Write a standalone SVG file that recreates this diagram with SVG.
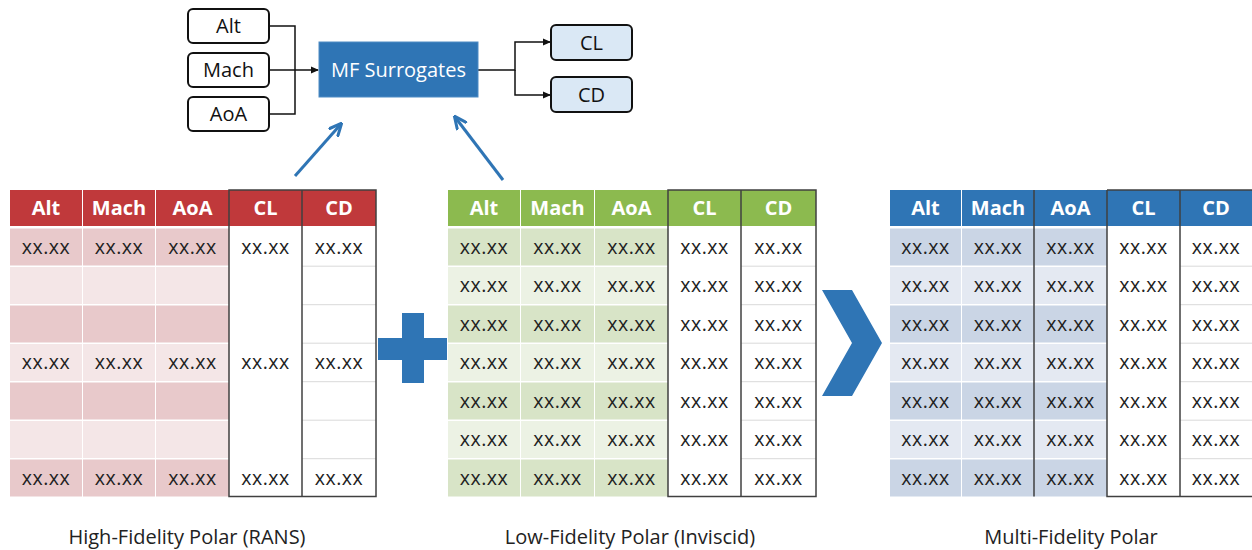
<svg xmlns="http://www.w3.org/2000/svg" width="1252" height="550" viewBox="0 0 1252 550">
<style>
.bx{fill:#fff;stroke:#111;stroke-width:2}
.out{fill:#DAE8F5;stroke:#111;stroke-width:2}
.lb{font-family:"Open Sans","Liberation Sans",sans-serif;font-size:20px;fill:#111;text-anchor:middle}
.hd{font-family:"Open Sans","Liberation Sans",sans-serif;font-size:20px;font-weight:bold;fill:#fff;text-anchor:middle}
.dt{font-family:"Open Sans","Liberation Sans",sans-serif;font-size:19.5px;fill:#222;text-anchor:middle;letter-spacing:0.5px}
.cap{font-family:"Open Sans","Liberation Sans",sans-serif;font-size:20px;fill:#222;text-anchor:middle}
.rh{fill:#C0393B}.r1{fill:#E8C9CB}.r2{fill:#F4E6E7}
.gh{fill:#8CBA4F}.g1{fill:#D8E4C7}.g2{fill:#ECF2E4}
.bh{fill:#2F75B5}.b1{fill:#CAD5E5}.b2{fill:#E4E9F2}
.dk{fill:none;stroke:#404040;stroke-width:1.5}
.lt{stroke:#D9D9D9;stroke-width:1}
.cn{fill:none;stroke:#111;stroke-width:1.5}
.ba{fill:none;stroke:#2F75B5;stroke-width:3}
</style>
<defs>
<marker id="ah" markerWidth="8" markerHeight="8" refX="7" refY="4" orient="auto" markerUnits="userSpaceOnUse"><path d="M0,0.5 L8,4 L0,7.5 Z" fill="#111"/></marker>
<marker id="bah" markerWidth="14" markerHeight="14" refX="12" refY="7" orient="auto" markerUnits="userSpaceOnUse"><path d="M0,1 L13,7 L0,13" fill="none" stroke="#2F75B5" stroke-width="3"/></marker>
</defs>

<g id="connectors">
<path class="cn" d="M270,26 H295 V70 M270,114 H295 V70"/>
<path class="cn" d="M270,70 H318" marker-end="url(#ah)"/>
<path class="cn" d="M478,70 H515 V42 H550" marker-end="url(#ah)"/>
<path class="cn" d="M515,70 V95 H550" marker-end="url(#ah)"/>
<path class="ba" d="M295,176 L341,124" marker-end="url(#bah)"/>
<path class="ba" d="M503,180 L455,117" marker-end="url(#bah)"/>
</g>

<g id="in-alt"><rect class="bx" x="188" y="9" width="81" height="34" rx="5"/><text class="lb" x="228.5" y="33">Alt</text></g>
<g id="in-mach"><rect class="bx" x="188" y="53" width="81" height="34" rx="5"/><text class="lb" x="228.5" y="77">Mach</text></g>
<g id="in-aoa"><rect class="bx" x="188" y="97" width="81" height="34" rx="5"/><text class="lb" x="228.5" y="121">AoA</text></g>
<g id="mf"><rect x="319" y="42" width="159" height="55" fill="#2F75B5" stroke="#4F8CC4" stroke-width="1"/><text x="398.5" y="77" font-family="'Open Sans','Liberation Sans',sans-serif" font-size="20" fill="#fff" text-anchor="middle">MF Surrogates</text></g>
<g id="out-cl"><rect class="out" x="551" y="25" width="81" height="35" rx="5"/><text class="lb" x="591.5" y="50">CL</text></g>
<g id="out-cd"><rect class="out" x="551" y="77" width="81" height="35" rx="5"/><text class="lb" x="591.5" y="102">CD</text></g>

<g id="hf-table">
<rect class="rh" x="10" y="190" width="72" height="36"/><rect class="rh" x="83" y="190" width="72" height="36"/><rect class="rh" x="156" y="190" width="73" height="36"/><rect class="rh" x="229" y="190" width="73" height="36"/><rect class="rh" x="302" y="190" width="74" height="36"/>
<text class="hd" x="46" y="215">Alt</text><text class="hd" x="119" y="215">Mach</text><text class="hd" x="192.5" y="215">AoA</text><text class="hd" x="265.5" y="215">CL</text><text class="hd" x="339" y="215">CD</text>
<g class="r1"><rect x="10" y="228.5" width="72" height="37"/><rect x="83" y="228.5" width="72" height="37"/><rect x="156" y="228.5" width="73" height="37"/></g>
<g class="r2"><rect x="10" y="267" width="72" height="37"/><rect x="83" y="267" width="72" height="37"/><rect x="156" y="267" width="73" height="37"/></g>
<g class="r1"><rect x="10" y="305.5" width="72" height="37"/><rect x="83" y="305.5" width="72" height="37"/><rect x="156" y="305.5" width="73" height="37"/></g>
<g class="r2"><rect x="10" y="344" width="72" height="37"/><rect x="83" y="344" width="72" height="37"/><rect x="156" y="344" width="73" height="37"/></g>
<g class="r1"><rect x="10" y="382.5" width="72" height="37"/><rect x="83" y="382.5" width="72" height="37"/><rect x="156" y="382.5" width="73" height="37"/></g>
<g class="r2"><rect x="10" y="421" width="72" height="37"/><rect x="83" y="421" width="72" height="37"/><rect x="156" y="421" width="73" height="37"/></g>
<g class="r1"><rect x="10" y="459.5" width="72" height="37"/><rect x="83" y="459.5" width="72" height="37"/><rect x="156" y="459.5" width="73" height="37"/></g>
<path class="lt" d="M302,266.2 H376 M302,304.7 H376 M302,343.2 H376 M302,381.7 H376 M302,420.2 H376 M302,458.7 H376"/>
<rect class="dk" x="229" y="190" width="147" height="306.5"/><path class="dk" d="M302,190 V496.5"/>
<g class="dt"><text x="46" y="253.5">xx.xx</text><text x="119" y="253.5">xx.xx</text><text x="192.5" y="253.5">xx.xx</text><text x="265.5" y="253.5">xx.xx</text><text x="339" y="253.5">xx.xx</text>
<text x="46" y="369">xx.xx</text><text x="119" y="369">xx.xx</text><text x="192.5" y="369">xx.xx</text><text x="265.5" y="369">xx.xx</text><text x="339" y="369">xx.xx</text>
<text x="46" y="484.5">xx.xx</text><text x="119" y="484.5">xx.xx</text><text x="192.5" y="484.5">xx.xx</text><text x="265.5" y="484.5">xx.xx</text><text x="339" y="484.5">xx.xx</text></g>
<text class="cap" x="187" y="544">High-Fidelity Polar (RANS)</text>
</g>

<g id="plus"><path d="M402,313 H424 V338 H447 V360 H424 V383 H402 V360 H378 V338 H402 Z" fill="#2F75B5"/></g>

<g id="lf-table">
<rect class="gh" x="448" y="190" width="72" height="36"/><rect class="gh" x="521" y="190" width="73" height="36"/><rect class="gh" x="595" y="190" width="73" height="36"/><rect class="gh" x="668" y="190" width="73" height="36"/><rect class="gh" x="741" y="190" width="75" height="36"/>
<text class="hd" x="484" y="215">Alt</text><text class="hd" x="557.5" y="215">Mach</text><text class="hd" x="631.5" y="215">AoA</text><text class="hd" x="704.5" y="215">CL</text><text class="hd" x="778.5" y="215">CD</text>
<g class="g1"><rect x="448" y="228.5" width="72" height="37"/><rect x="521" y="228.5" width="73" height="37"/><rect x="595" y="228.5" width="73" height="37"/></g>
<g class="g2"><rect x="448" y="267" width="72" height="37"/><rect x="521" y="267" width="73" height="37"/><rect x="595" y="267" width="73" height="37"/></g>
<g class="g1"><rect x="448" y="305.5" width="72" height="37"/><rect x="521" y="305.5" width="73" height="37"/><rect x="595" y="305.5" width="73" height="37"/></g>
<g class="g2"><rect x="448" y="344" width="72" height="37"/><rect x="521" y="344" width="73" height="37"/><rect x="595" y="344" width="73" height="37"/></g>
<g class="g1"><rect x="448" y="382.5" width="72" height="37"/><rect x="521" y="382.5" width="73" height="37"/><rect x="595" y="382.5" width="73" height="37"/></g>
<g class="g2"><rect x="448" y="421" width="72" height="37"/><rect x="521" y="421" width="73" height="37"/><rect x="595" y="421" width="73" height="37"/></g>
<g class="g1"><rect x="448" y="459.5" width="72" height="37"/><rect x="521" y="459.5" width="73" height="37"/><rect x="595" y="459.5" width="73" height="37"/></g>
<path class="lt" d="M741,266.2 H816 M741,304.7 H816 M741,343.2 H816 M741,381.7 H816 M741,420.2 H816 M741,458.7 H816"/>
<rect class="dk" x="668" y="190" width="148" height="306.5"/><path class="dk" d="M741,190 V496.5"/>
<g class="dt">
<text x="484" y="253.5">xx.xx</text><text x="557.5" y="253.5">xx.xx</text><text x="631.5" y="253.5">xx.xx</text><text x="704.5" y="253.5">xx.xx</text><text x="778.5" y="253.5">xx.xx</text>
<text x="484" y="292">xx.xx</text><text x="557.5" y="292">xx.xx</text><text x="631.5" y="292">xx.xx</text><text x="704.5" y="292">xx.xx</text><text x="778.5" y="292">xx.xx</text>
<text x="484" y="330.5">xx.xx</text><text x="557.5" y="330.5">xx.xx</text><text x="631.5" y="330.5">xx.xx</text><text x="704.5" y="330.5">xx.xx</text><text x="778.5" y="330.5">xx.xx</text>
<text x="484" y="369">xx.xx</text><text x="557.5" y="369">xx.xx</text><text x="631.5" y="369">xx.xx</text><text x="704.5" y="369">xx.xx</text><text x="778.5" y="369">xx.xx</text>
<text x="484" y="407.5">xx.xx</text><text x="557.5" y="407.5">xx.xx</text><text x="631.5" y="407.5">xx.xx</text><text x="704.5" y="407.5">xx.xx</text><text x="778.5" y="407.5">xx.xx</text>
<text x="484" y="446">xx.xx</text><text x="557.5" y="446">xx.xx</text><text x="631.5" y="446">xx.xx</text><text x="704.5" y="446">xx.xx</text><text x="778.5" y="446">xx.xx</text>
<text x="484" y="484.5">xx.xx</text><text x="557.5" y="484.5">xx.xx</text><text x="631.5" y="484.5">xx.xx</text><text x="704.5" y="484.5">xx.xx</text><text x="778.5" y="484.5">xx.xx</text>
</g>
<text class="cap" x="630" y="544">Low-Fidelity Polar (Inviscid)</text>
</g>

<g id="chevron"><polygon points="822,290 852,290 882,343 852,396 822,396 852,343" fill="#2F75B5"/></g>

<g id="mf-table">
<rect class="bh" x="890" y="190" width="71" height="36"/><rect class="bh" x="962" y="190" width="72" height="36"/><rect class="bh" x="1034" y="190" width="73" height="36"/><rect class="bh" x="1107" y="190" width="73" height="36"/><rect class="bh" x="1180" y="190" width="72" height="36"/>
<text class="hd" x="925.5" y="215">Alt</text><text class="hd" x="998" y="215">Mach</text><text class="hd" x="1070.5" y="215">AoA</text><text class="hd" x="1143.5" y="215">CL</text><text class="hd" x="1216" y="215">CD</text>
<g class="b1"><rect x="890" y="228.5" width="71" height="37"/><rect x="962" y="228.5" width="72" height="37"/><rect x="1034" y="228.5" width="73" height="37"/></g>
<g class="b2"><rect x="890" y="267" width="71" height="37"/><rect x="962" y="267" width="72" height="37"/><rect x="1034" y="267" width="73" height="37"/></g>
<g class="b1"><rect x="890" y="305.5" width="71" height="37"/><rect x="962" y="305.5" width="72" height="37"/><rect x="1034" y="305.5" width="73" height="37"/></g>
<g class="b2"><rect x="890" y="344" width="71" height="37"/><rect x="962" y="344" width="72" height="37"/><rect x="1034" y="344" width="73" height="37"/></g>
<g class="b1"><rect x="890" y="382.5" width="71" height="37"/><rect x="962" y="382.5" width="72" height="37"/><rect x="1034" y="382.5" width="73" height="37"/></g>
<g class="b2"><rect x="890" y="421" width="71" height="37"/><rect x="962" y="421" width="72" height="37"/><rect x="1034" y="421" width="73" height="37"/></g>
<g class="b1"><rect x="890" y="459.5" width="71" height="37"/><rect x="962" y="459.5" width="72" height="37"/><rect x="1034" y="459.5" width="73" height="37"/></g>
<path class="lt" d="M1180,266.2 H1252 M1180,304.7 H1252 M1180,343.2 H1252 M1180,381.7 H1252 M1180,420.2 H1252 M1180,458.7 H1252"/>
<path class="dk" d="M1034,190 V496.5 M1107,190 V496.5 H1252 M1180,190 V496.5 M1107,190 H1252"/>
<g class="dt">
<text x="925.5" y="253.5">xx.xx</text><text x="998" y="253.5">xx.xx</text><text x="1070.5" y="253.5">xx.xx</text><text x="1143.5" y="253.5">xx.xx</text><text x="1216" y="253.5">xx.xx</text>
<text x="925.5" y="292">xx.xx</text><text x="998" y="292">xx.xx</text><text x="1070.5" y="292">xx.xx</text><text x="1143.5" y="292">xx.xx</text><text x="1216" y="292">xx.xx</text>
<text x="925.5" y="330.5">xx.xx</text><text x="998" y="330.5">xx.xx</text><text x="1070.5" y="330.5">xx.xx</text><text x="1143.5" y="330.5">xx.xx</text><text x="1216" y="330.5">xx.xx</text>
<text x="925.5" y="369">xx.xx</text><text x="998" y="369">xx.xx</text><text x="1070.5" y="369">xx.xx</text><text x="1143.5" y="369">xx.xx</text><text x="1216" y="369">xx.xx</text>
<text x="925.5" y="407.5">xx.xx</text><text x="998" y="407.5">xx.xx</text><text x="1070.5" y="407.5">xx.xx</text><text x="1143.5" y="407.5">xx.xx</text><text x="1216" y="407.5">xx.xx</text>
<text x="925.5" y="446">xx.xx</text><text x="998" y="446">xx.xx</text><text x="1070.5" y="446">xx.xx</text><text x="1143.5" y="446">xx.xx</text><text x="1216" y="446">xx.xx</text>
<text x="925.5" y="484.5">xx.xx</text><text x="998" y="484.5">xx.xx</text><text x="1070.5" y="484.5">xx.xx</text><text x="1143.5" y="484.5">xx.xx</text><text x="1216" y="484.5">xx.xx</text>
</g>
<text class="cap" x="1071" y="544">Multi-Fidelity Polar</text>
</g>
</svg>
